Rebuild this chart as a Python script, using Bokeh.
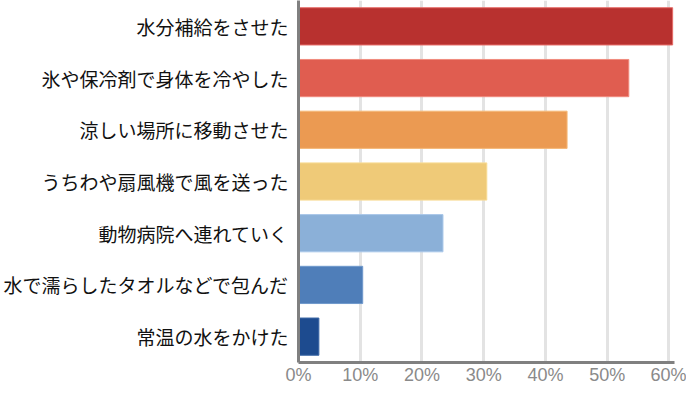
from bokeh.plotting import figure
from bokeh.models import Range1d, FactorRange, PrintfTickFormatter, FixedTicker
from bokeh.embed import file_html
from bokeh.resources import INLINE

categories = [
    "水分補給をさせた",
    "氷や保冷剤で身体を冷やした",
    "涼しい場所に移動させた",
    "うちわや扇風機で風を送った",
    "動物病院へ連れていく",
    "水で濡らしたタオルなどで包んだ",
    "常温の水をかけた",
]
values = [60.6, 53.5, 43.5, 30.5, 23.4, 10.4, 3.3]
colors = ["#b8312f", "#e05d50", "#eb9a52", "#efca78", "#8bb0d8", "#4f7eb9", "#1d4b8f"]
borders = ["#e66a66", "#f08a7e", "#f5b877", "#f8dc95", "#a9c7e9", "#7099cc", "#3c68a6"]
x_ticks = [0, 10, 20, 30, 40, 50, 60]

p = figure(
    frame_width=376, frame_height=362,
    y_range=FactorRange(factors=list(reversed(categories)), range_padding=0),
    x_range=Range1d(0, 60.9),
    output_backend="svg", toolbar_location=None,
    min_border_left=0, min_border_right=12, min_border_top=0, min_border_bottom=0,
)
p.hbar(y=categories, left=0, right=values, height=0.72,
       fill_color=colors, line_color=borders, line_width=1)

p.outline_line_color = None
p.background_fill_color = "white"
p.ygrid.grid_line_color = None
p.xgrid.grid_line_color = "#e3e3e3"
p.xgrid.grid_line_width = 3
p.xaxis.ticker = FixedTicker(ticks=x_ticks)
p.xaxis.formatter = PrintfTickFormatter(format="%d%%")
p.xaxis.major_label_text_font = "Liberation Sans"
p.xaxis.major_label_text_font_size = "18px"
p.xaxis.major_label_text_color = "#8a8a8a"
p.xaxis.major_label_standoff = 2
p.yaxis.major_label_text_font = "Noto Sans CJK JP"
p.yaxis.major_label_text_font_size = "19px"
p.yaxis.major_label_text_color = "#111111"
p.yaxis.major_label_standoff = 10
for ax in (p.xaxis, p.yaxis):
    ax.axis_line_color = "#808080"
    ax.axis_line_width = 3
    ax.major_tick_line_color = None
    ax.minor_tick_line_color = None
    ax.major_tick_out = 0
    ax.major_tick_in = 0

open("out.html", "w").write(file_html(p, INLINE))
